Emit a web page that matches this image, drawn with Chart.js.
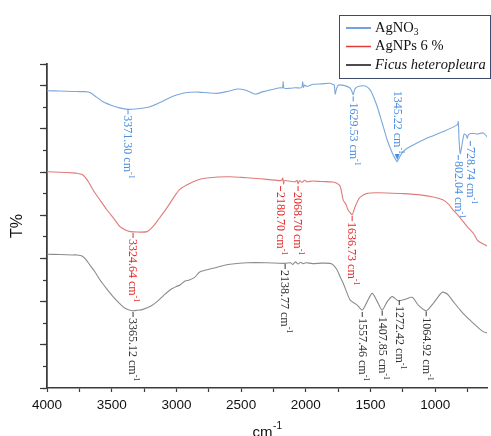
<!DOCTYPE html>
<html><head><meta charset="utf-8">
<script src="https://cdn.jsdelivr.net/npm/chart.js@4"></script>
<style>html,body{margin:0;padding:0;background:#fff}</style>
</head><body>
<canvas id="c" width="491" height="436"></canvas>
<script>
// ---------- data ----------
const seriesNames = ['AgNO₃', 'AgNPs 6 %', 'Ficus heteropleura'];
const xTickValues = [4000,3750,3500,3250,3000,2750,2500,2250,2000,1750,1500,1250,1000,750];

const wnAgNO3 = [4000,3900,3800,3745,3706,3668,3620,3567,3500,3440,3374,3300,3204,3140,3072,3000,2940,2894,2830,2760,2686,2600,2531,2469,2430,2392,2330,2276,2198,2180,2175,2168,2121,2080,2044,2030,2024,2018,2010,1990,1943,1880,1812,1789,1780,1773,1765,1750,1700,1657,1645,1634,1620,1595,1541,1503,1475,1448,1410,1371,1332,1310,1294,1275,1247,1210,1170,1062,938,830,822,816,807,795,785,776,760,753,745,729,700,675,629,598];
const tAgNO3 = [13.76,13.75,13.73,13.72,13.72,13.68,13.48,13.25,13.08,12.97,12.90,12.93,13.02,13.18,13.38,13.56,13.66,13.69,13.70,13.67,13.64,13.74,13.84,13.80,13.70,13.60,13.72,13.80,13.90,13.90,14.18,13.88,13.88,13.90,13.89,13.93,14.18,13.92,14.02,13.96,14.06,14.08,14.11,14.05,14.02,13.61,13.80,14.02,14.00,13.88,13.75,13.58,13.85,13.96,13.98,13.80,13.45,13.02,12.27,11.48,10.88,10.62,10.48,10.70,10.95,11.12,11.25,11.57,11.87,12.18,12.33,11.50,10.85,11.20,11.55,11.76,11.70,11.55,11.70,11.78,11.78,11.76,11.81,11.62];

const wnAgNPs = [4000,3900,3800,3768,3722,3680,3644,3590,3536,3480,3436,3390,3358,3300,3227,3180,3142,3090,3049,3010,2972,2894,2830,2763,2680,2585,2500,2407,2300,2198,2185,2178,2172,2165,2120,2082,2068,2060,2050,2030,2010,1990,1950,1880,1789,1760,1735,1711,1690,1673,1655,1642,1630,1619,1600,1580,1526,1450,1371,1250,1116,1015,938,900,861,810,753,700,675,640,598];
const tAgNPs = [10.01,9.99,9.96,9.94,9.86,9.55,9.17,8.70,8.24,7.82,7.47,7.30,7.24,7.22,7.24,7.48,7.78,8.20,8.56,8.92,9.21,9.48,9.64,9.72,9.77,9.78,9.75,9.71,9.66,9.60,9.63,9.72,9.45,9.60,9.57,9.55,9.62,9.45,9.60,9.52,9.62,9.55,9.58,9.56,9.54,9.48,9.35,8.70,8.50,8.24,8.10,8.01,8.20,8.39,8.65,8.84,9.01,9.04,9.03,9.00,8.94,8.84,8.70,8.52,8.24,7.90,7.47,7.12,6.85,6.70,6.57];

const wnFicus = [4000,3900,3800,3768,3729,3700,3668,3630,3590,3540,3490,3440,3397,3343,3300,3258,3200,3150,3100,3049,3000,2972,2933,2900,2860,2817,2716,2650,2585,2454,2299,2160,2120,2100,2080,2060,2040,2020,2000,1950,1880,1812,1785,1758,1735,1711,1685,1657,1603,1564,1526,1487,1448,1410,1371,1332,1286,1232,1178,1131,1070,1015,946,907,860,807,760,706,660,629,598];
const tFicus = [6.19,6.18,6.16,6.16,6.11,5.95,5.69,5.38,5.00,4.60,4.23,3.92,3.69,3.58,3.60,3.64,3.78,4.00,4.28,4.54,4.70,4.77,4.95,5.00,5.12,5.38,5.54,5.65,5.73,5.80,5.80,5.77,5.80,5.72,5.84,5.74,5.82,5.76,5.80,5.76,5.78,5.77,5.68,5.46,5.15,4.85,4.45,4.07,3.84,3.61,4.00,4.38,4.00,3.61,4.00,4.23,4.04,4.11,4.20,3.84,3.58,3.92,4.43,4.35,4.00,3.61,3.30,3.00,2.75,2.61,2.55];

// peak labels: series index, wavenumber, transmittance where label starts, text, direction
const peakSeries = [0,0,0,0,0, 1,1,1,1, 2,2,2,2,2,2];
const peakWn     = [3374,1634,1294,822,729, 3335,2195,2060,1642, 3335,2160,1564,1410,1278,1070];
const peakT      = [12.90,13.50,10.55,10.79,11.44, 7.18,9.35,9.35,7.96, 3.52,5.74,3.52,3.58,4.07,3.55];
const peakText   = ['3371.30','1629.53','1345.22','802.04','728.74','3324.64','2180.70','2068.70','1636.73','3365.12','2138.77','1557.46','1407.85','1272.42','1064.92'];
const peakDir    = ['down','down','up','down','down','down','down','down','down','down','down','down','down','down','down'];

// ---------- styles ----------
const curveColors  = ['#7ba7da', '#e07b7b', '#8c8c8c'];
const legendColors = ['#3f84d8', '#e23a3a', '#111111'];
const labelColors  = ['#4a8ee0', '#e42a2a', '#333333'];

const toPts = (xs, ys) => xs.map((x, i) => ({x, y: ys[i]}));

const peakPlugin = {
  id: 'peaks',
  afterDatasetsDraw(chart) {
    const {ctx, scales} = chart;
    ctx.save();
    for (let i = 0; i < peakWn.length; i++) {
      const px = scales.x.getPixelForValue(peakWn[i]);
      const py = scales.y.getPixelForValue(peakT[i]);
      const col = labelColors[peakSeries[i]];
      ctx.save();
      ctx.translate(px, py);
      ctx.rotate(Math.PI / 2);
      ctx.fillStyle = col; ctx.strokeStyle = col; ctx.lineWidth = 1;
      ctx.textBaseline = 'middle';
      const big = '12px "Liberation Serif", "Times New Roman", serif';
      const small = '8px "Liberation Serif", "Times New Roman", serif';
      ctx.font = big;
      const main = peakText[i] + ' cm';
      const w1 = ctx.measureText(main).width;
      ctx.font = small;
      const w2 = ctx.measureText('-1').width;
      const total = 6 + w1 + w2;
      let start = peakDir[i] === 'down' ? 0 : -total;
      // tick mark
      if (peakDir[i] === 'down') {
        ctx.beginPath(); ctx.moveTo(0, 0); ctx.lineTo(5, 0); ctx.stroke();
      } else {
        ctx.beginPath(); ctx.moveTo(-6, -2.5); ctx.lineTo(0, 0); ctx.lineTo(-6, 2.5); ctx.closePath(); ctx.fill();
      }
      ctx.font = big;
      ctx.fillText(main, start + (peakDir[i] === 'down' ? 6 : 0), 0.5);
      ctx.font = small;
      ctx.fillText('-1', start + (peakDir[i] === 'down' ? 6 : 0) + w1, -3.5);
      ctx.restore();
    }
    ctx.restore();
  }
};

const decorPlugin = {
  id: 'decor',
  afterDraw(chart) {
    const {ctx, chartArea} = chart;
    ctx.save();
    // x-axis title cm^-1
    const cx = (chartArea.left + chartArea.right) / 2;
    ctx.fillStyle = '#111';
    ctx.textBaseline = 'alphabetic';
    ctx.font = '15px "Liberation Sans", Arial, sans-serif';
    const wcm = ctx.measureText('cm').width;
    ctx.font = '10px "Liberation Sans", Arial, sans-serif';
    const wsup = ctx.measureText('-1').width;
    let x0 = cx - (wcm + wsup) / 2;
    ctx.font = '15px "Liberation Sans", Arial, sans-serif';
    ctx.fillText('cm', x0, 437);
    ctx.font = '10px "Liberation Sans", Arial, sans-serif';
    ctx.fillText('-1', x0 + wcm + 0.5, 429);

    // legend box
    const bx = 339.5, by = 15.5, bw = 151, bh = 63;
    ctx.fillStyle = '#fff';
    ctx.fillRect(bx, by, bw, bh);
    ctx.strokeStyle = '#3d4a6a'; ctx.lineWidth = 1;
    ctx.strokeRect(bx, by, bw, bh);
    const rows = [28, 46.5, 65];
    chart.data.datasets.forEach((ds, i) => {
      const ry = rows[i];
      ctx.strokeStyle = legendColors[i]; ctx.lineWidth = 1.5;
      ctx.beginPath(); ctx.moveTo(346, ry); ctx.lineTo(371, ry); ctx.stroke();
      ctx.fillStyle = '#111';
      ctx.textBaseline = 'middle';
      const italic = i === 2;
      const f = (sz) => (italic ? 'italic ' : '') + sz + 'px "Liberation Serif", "Times New Roman", serif';
      let tx = 375;
      for (const ch of ds.label) {
        const code = ch.codePointAt(0);
        if (code >= 0x2080 && code <= 0x2089) {
          ctx.font = f(9.5);
          const d = String(code - 0x2080);
          ctx.fillText(d, tx, ry + 4);
          tx += ctx.measureText(d).width;
        } else {
          ctx.font = f(14.5);
          ctx.fillText(ch, tx, ry);
          tx += ctx.measureText(ch).width;
        }
      }
    });
    ctx.restore();
  }
};

const axisBorder = {color: '#3a3a3a', width: 1.5};

new Chart(document.getElementById('c'), {
  type: 'line',
  data: {
    datasets: [
      {label: seriesNames[0], data: toPts(wnAgNO3, tAgNO3), borderColor: curveColors[0]},
      {label: seriesNames[1], data: toPts(wnAgNPs, tAgNPs), borderColor: curveColors[1]},
      {label: seriesNames[2], data: toPts(wnFicus, tFicus), borderColor: curveColors[2]}
    ].map(d => Object.assign(d, {borderWidth: 1.1, pointRadius: 0, tension: 0.25, fill: false}))
  },
  options: {
    responsive: false, animation: false, devicePixelRatio: 1,
    layout: {padding: {left: 0, right: 4, top: 64, bottom: 0}},
    plugins: {legend: {display: false}, tooltip: {enabled: false}},
    scales: {
      x: {
        type: 'linear', reverse: true, min: 600, max: 4000,
        afterBuildTicks: s => { s.ticks = xTickValues.map(v => ({value: v})); },
        ticks: {autoSkip: false, maxRotation: 0, color: '#111', padding: 5,
          font: {family: '"Liberation Sans", Arial, sans-serif', size: 13.5},
          callback: v => (v % 500 === 0 ? String(v) : '')},
        grid: {drawOnChartArea: false, drawTicks: true, tickLength: 4, tickColor: '#3a3a3a', tickWidth: 1.2},
        border: axisBorder,
        afterFit: s => { s.height = 48; }
      },
      y: {
        type: 'linear', min: 0, max: 15, position: 'left', weight: 1,
        ticks: {stepSize: 1, callback: () => '', padding: 0},
        grid: {drawOnChartArea: false, tickLength: 4, tickColor: '#3a3a3a', tickWidth: 1.2},
        border: axisBorder,
        title: {display: true, text: 'T%', color: '#111', padding: {top: 8, bottom: 0},
          font: {family: '"Liberation Sans", Arial, sans-serif', size: 16}},
        afterFit: s => { s.width = 47; }
      },
      y2: {
        type: 'linear', min: 0, max: 15, position: 'left', weight: 0,
        ticks: {stepSize: 2, callback: () => '', padding: 0},
        grid: {drawOnChartArea: false, tickLength: 7, tickColor: '#3a3a3a', tickWidth: 1.2},
        border: axisBorder,
        afterFit: s => { s.width = 0; }
      }
    }
  },
  plugins: [peakPlugin, decorPlugin]
});
</script>
</body></html>
